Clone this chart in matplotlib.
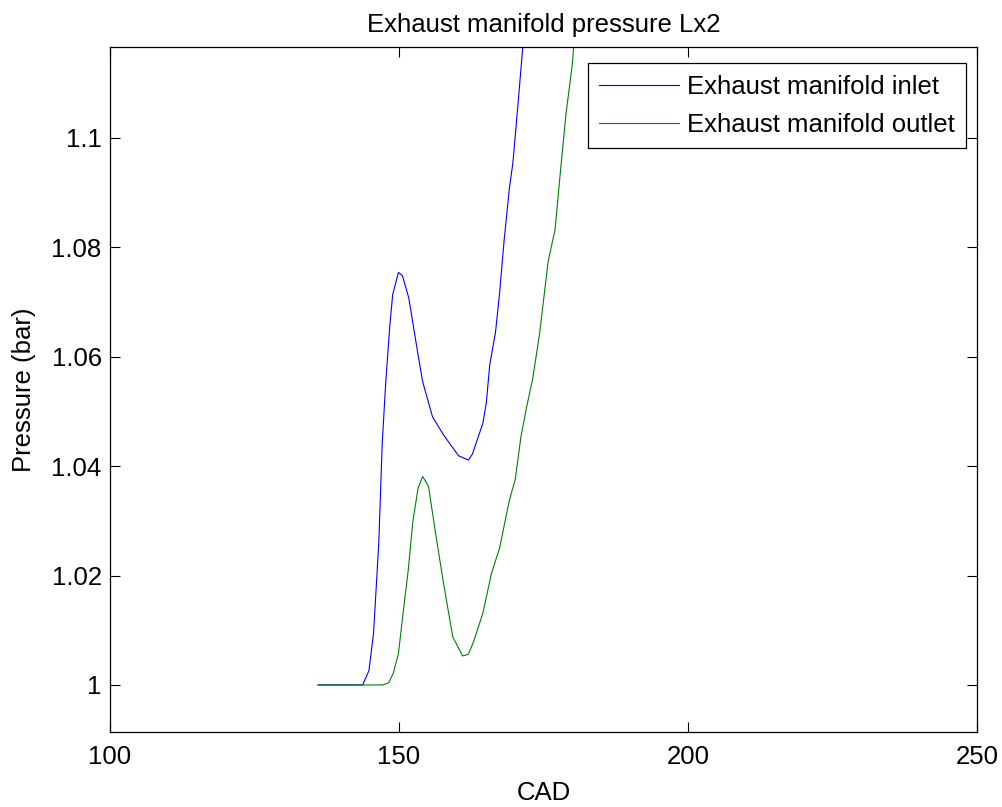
import matplotlib
matplotlib.use("Agg")
import matplotlib.pyplot as plt

# Data
inlet_cad = [136, 143.7, 144.8, 145.6, 146.5, 147.1, 147.7, 148.4, 148.9, 149.9,
             150.6, 151.7, 152.5, 153.3, 154.1, 155.8, 157.7, 160.3, 162.0, 162.7,
             164.5, 165.1, 165.7, 166.7, 167.4, 168.2, 169.1, 169.7, 170.6, 171.4, 172.2]
inlet_p = [1.0, 1.0, 1.0026, 1.0095, 1.0259, 1.0442, 1.0552, 1.0655, 1.0713, 1.0754,
           1.0748, 1.0707, 1.0655, 1.0603, 1.0554, 1.0490, 1.0457, 1.0419, 1.0411, 1.0422,
           1.0478, 1.0515, 1.0585, 1.0645, 1.0716, 1.0814, 1.0908, 1.0954, 1.1063, 1.1164, 1.126]

outlet_cad = [136, 147.2, 148.2, 149.0, 149.9, 150.7, 151.6, 152.4, 153.3, 154.1,
              155.1, 155.8, 156.6, 157.7, 159.3, 161.0, 162.0, 162.9, 164.5, 166.0,
              167.4, 169.1, 170.1, 171.1, 172.1, 173.1, 174.3, 175.8, 177.0, 177.9,
              178.9, 179.5, 180.0, 180.2, 180.5]
outlet_p = [1.0, 1.0, 1.0004, 1.0021, 1.0057, 1.0131, 1.0210, 1.0299, 1.0360, 1.0381,
            1.0363, 1.0314, 1.0259, 1.0186, 1.0088, 1.0053, 1.0056, 1.0079, 1.0131, 1.0204,
            1.0250, 1.0338, 1.0375, 1.0454, 1.0509, 1.0558, 1.0640, 1.0774, 1.0832, 1.0935,
            1.1045, 1.1094, 1.1136, 1.1164, 1.125]

x_ticks = [100, 150, 200, 250]
y_ticks = [1.0, 1.02, 1.04, 1.06, 1.08, 1.1]
y_tick_labels = ["1", "1.02", "1.04", "1.06", "1.08", "1.1"]

plt.rcParams['font.family'] = ['Liberation Sans', 'DejaVu Sans']
FS = 18.5

fig = plt.figure(figsize=(10.03, 8.07), dpi=100)
ax = fig.add_axes([110/1003, 75/807, 867/1003, 685/807])

ax.plot(inlet_cad, inlet_p, color=(0, 0, 1), lw=0.8, label="Exhaust manifold inlet")
ax.plot(outlet_cad, outlet_p, color=(0, 0.5, 0), lw=0.8, label="Exhaust manifold outlet")

ax.set_xlim(100, 250)
ax.set_ylim(0.9914, 1.1166)
ax.set_xticks(x_ticks)
ax.set_yticks(y_ticks)
ax.set_yticklabels(y_tick_labels)
ax.tick_params(direction='in', length=7, width=0.8, top=True, right=True,
               labelsize=FS, colors='black')
ax.tick_params(axis='x', pad=9)
ax.tick_params(axis='y', pad=6)
for s in ax.spines.values():
    s.set_linewidth(0.9)
    s.set_color('black')

ax.set_title("Exhaust manifold pressure Lx2", fontsize=FS, pad=11)
ax.set_xlabel("CAD", fontsize=FS, labelpad=9)
ax.set_ylabel("Pressure (bar)", fontsize=FS, labelpad=11)

leg = ax.legend(loc='upper right', bbox_to_anchor=(1 - 11/867, 1 - 16/685),
                borderaxespad=0, fontsize=FS, fancybox=False, framealpha=1,
                edgecolor='black', handlelength=3.1, handletextpad=0.3,
                borderpad=0.45, labelspacing=0.55)
leg.get_frame().set_linewidth(0.9)

fig.savefig("out.png", dpi=100)
